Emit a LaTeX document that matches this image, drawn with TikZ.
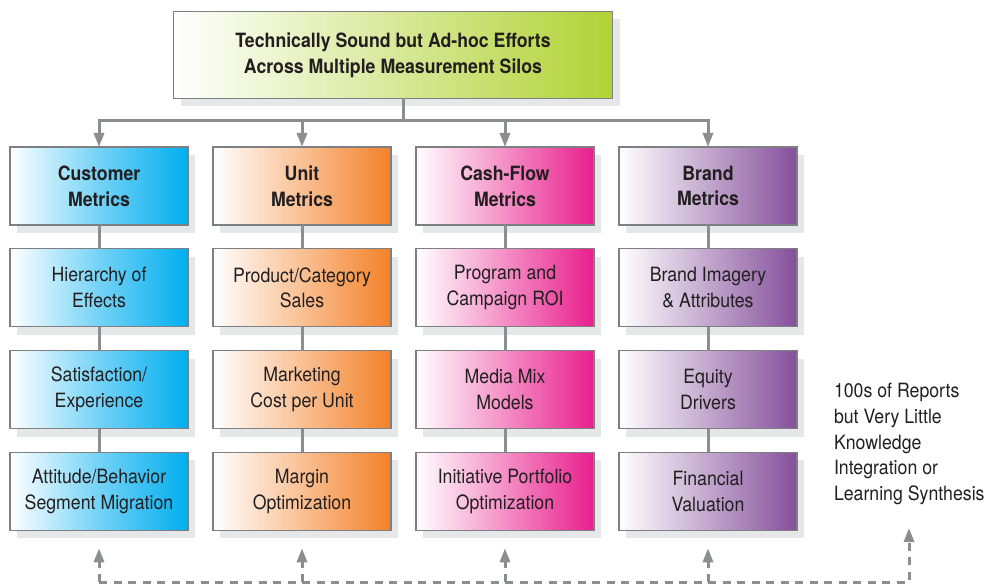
\documentclass[tikz,border=0pt]{standalone}
\usepackage{fontspec}
\setmainfont{TeX Gyre Heros}[FakeStretch=0.9]
\usepackage{xcolor}
\usepackage{tikz}
\usetikzlibrary{shapes,arrows,positioning,calc,shadows,arrows.meta}

\definecolor{boxline}{RGB}{125,127,130}
\definecolor{wire}{RGB}{140,141,144}
\definecolor{shadowgray}{RGB}{230,231,232}
\definecolor{ink}{RGB}{35,31,32}
\definecolor{topgreen}{RGB}{178,210,53}
\definecolor{sky}{RGB}{0,174,239}
\definecolor{tang}{RGB}{243,129,40}
\definecolor{rose}{RGB}{233,30,140}
\definecolor{plum}{RGB}{133,79,155}

\begin{document}
\begin{tikzpicture}[node distance=0.475cm and 0.5cm, outer sep=0pt, text=ink,
    font=\fontsize{11.2}{14.6}\selectfont,
    metric/.style={draw=boxline, line width=0.6pt, rectangle, minimum width=3.56cm, minimum height=1.56cm, align=center,
        drop shadow={shadow xshift=0.14cm, shadow yshift=-0.16cm, fill=shadowgray, opacity=1}},
    head/.style={font=\fontsize{11.2}{14.6}\selectfont\bfseries},
    cust/.style={metric, left color=white, right color=sky, middle color=sky!55!white},
    unit/.style={metric, left color=white, right color=tang, middle color=tang!50!white},
    cash/.style={metric, left color=white, right color=rose, middle color=rose!50!white},
    brand/.style={metric, left color=white, right color=plum, middle color=plum!50!white},
    conn/.style={draw=wire, line width=0.06cm},
    dashconn/.style={conn, dash pattern=on 0.16cm off 0.13cm},
    headed/.style={-{Triangle[length=0.28cm,width=0.2cm]}}]
    \useasboundingbox (0,0) rectangle (19.72,-11.7);

    \node [metric, head, minimum width=8.78cm, minimum height=1.74cm, left color=white, right color=topgreen] (top) at (7.86,-1.1) {Technically Sound but Ad-hoc Efforts\\Across Multiple Measurement Silos};

    % column heads
    \node [cust, head] (a1) at (1.98,-3.72) {Customer\\Metrics};
    \node [unit, head, right=of a1] (b1) {Unit\\Metrics};
    \node [cash, head, right=of b1] (c1) {Cash-Flow\\Metrics};
    \node [brand, head, right=of c1] (d1) {Brand\\Metrics};

    \node [cust, below=of a1] (a2) {Hierarchy of\\Effects};
    \node [cust, below=of a2] (a3) {Satisfaction/\\Experience};
    \node [cust, below=of a3] (a4) {Attitude/Behavior\\Segment Migration};

    \node [unit, below=of b1] (b2) {Product/Category\\Sales};
    \node [unit, below=of b2] (b3) {Marketing\\Cost per Unit};
    \node [unit, below=of b3] (b4) {Margin\\Optimization};

    \node [cash, below=of c1] (c2) {Program and\\Campaign ROI};
    \node [cash, below=of c2] (c3) {Media Mix\\Models};
    \node [cash, below=of c3] (c4) {Initiative Portfolio\\Optimization};

    \node [brand, below=of d1] (d2) {Brand Imagery\\\& Attributes};
    \node [brand, below=of d2] (d3) {Equity\\Drivers};
    \node [brand, below=of d3] (d4) {Financial\\Valuation};

    \node [align=left, anchor=west, inner sep=0pt] (note) at (16.68,-8.88) {100s of Reports\\but Very Little\\Knowledge\\Integration or\\Learning Synthesis};

    % tree lines
    \coordinate (bus) at (8.06,-2.42);
    \draw [conn] (top.south -| bus) -- (bus);
    \draw [conn, headed] (bus) -| (a1.north);
    \draw [conn, headed] (bus) -| (d1.north);
    \draw [conn, headed] (b1.north |- bus) -- (b1.north);
    \draw [conn, headed] (c1.north |- bus) -- (c1.north);
    \foreach \col in {a,b,c,d} {
        \foreach \r/\s in {1/2,2/3,3/4}
            \draw [conn] (\col\r) -- (\col\s);
    }

    % feedback
    \coordinate (base) at (18.18,-11.64);
    \coordinate (sink) at (18.18,-10.56);
    \draw [dashconn, headed] (a4.south |- base) -- (base) -- (sink);
    \foreach \col in {a,b,c,d}
        \draw [dashconn, headed, shorten >=0.36cm] (\col4.south |- base) -- (\col4.south);
\end{tikzpicture}
\end{document}
